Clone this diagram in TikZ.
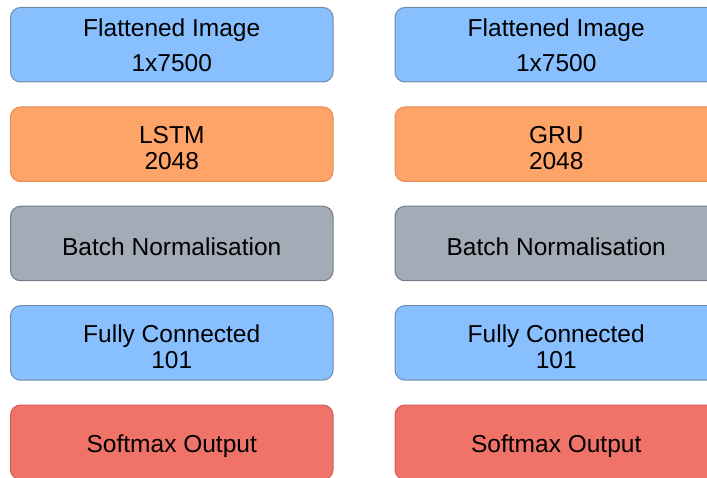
\documentclass[tikz,border=0pt]{standalone}
\usepackage{fontspec}
\setmainfont{Liberation Sans}
\definecolor{inblue}{HTML}{88C0FF}
\definecolor{inblueline}{HTML}{6F8AA8}
\definecolor{rnnorange}{HTML}{FFA468}
\definecolor{rnnorangeline}{HTML}{E58A55}
\definecolor{normgray}{HTML}{A3ACB6}
\definecolor{normgrayline}{HTML}{727D89}
\definecolor{outred}{HTML}{F07369}
\definecolor{outredline}{HTML}{CF5C55}
\begin{document}
\begin{tikzpicture}[x=1pt, y=-1pt,
		layer/.style={draw, line width=1pt, rounded corners=10pt, minimum width=322.5pt,
			minimum height=74.5pt, inner sep=0pt},
		txt/.style={align=center, inner sep=0pt, yshift=-3.5pt,
			font=\fontsize{24.5}{26}\selectfont},
		flatbox/.style={layer, fill=inblue, draw=inblueline},
		rnnbox/.style={layer, fill=rnnorange, draw=rnnorangeline},
		normbox/.style={layer, fill=normgray, draw=normgrayline},
		fcbox/.style={layer, fill=inblue, draw=inblueline},
		outbox/.style={layer, fill=outred, draw=outredline}]
		\useasboundingbox (0,0) rectangle (707,478);

		% left column: LSTM
		\node[flatbox, label={[txt, yshift=3.5pt]center:{Flattened Image\\[9pt]1x7500}}] (l1) at (171.75,44.75) {};
		\node[rnnbox, label={[txt]center:{LSTM\\2048}}] (l2) at (171.75,144.25) {};
		\node[normbox, label={[txt]center:{Batch Normalisation}}] (l3) at (171.75,243.5) {};
		\node[fcbox, label={[txt]center:{Fully Connected\\101}}] (l4) at (171.75,342.9) {};
		\node[outbox, label={[txt]center:{Softmax Output}}] (l5) at (171.75,442.3) {};

		% right column: GRU
		\node[flatbox, label={[txt, yshift=3.5pt]center:{Flattened Image\\[9pt]1x7500}}] (r1) at (556.25,44.75) {};
		\node[rnnbox, label={[txt]center:{GRU\\2048}}] (r2) at (556.25,144.25) {};
		\node[normbox, label={[txt]center:{Batch Normalisation}}] (r3) at (556.25,243.5) {};
		\node[fcbox, label={[txt]center:{Fully Connected\\101}}] (r4) at (556.25,342.9) {};
		\node[outbox, label={[txt]center:{Softmax Output}}] (r5) at (556.25,442.3) {};
	\end{tikzpicture}
\end{document}
